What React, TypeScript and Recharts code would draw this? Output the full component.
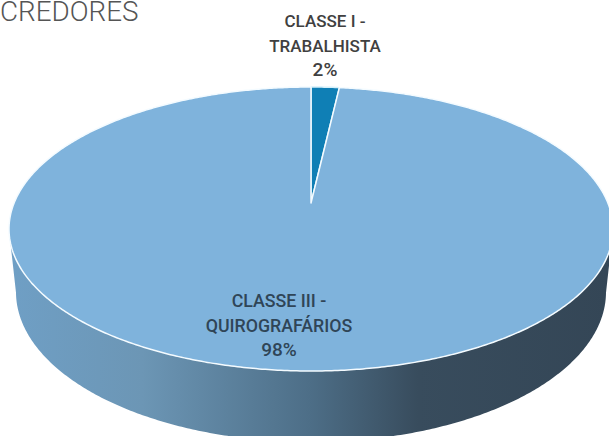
import React from "react";
import { PieChart, Pie, Cell } from "recharts";

const CATEGORIES = ["CLASSE I - TRABALHISTA", "CLASSE III - QUIROGRAFÁRIOS"];
const VALUES = [1.8, 98.2];
const LABEL_LINES = [
  ["CLASSE I -", "TRABALHISTA"],
  ["CLASSE III -", "QUIROGRAFÁRIOS"],
];
const COLORS = ["#0f7fb5", "#7fb3dc"];
const STROKES = ["#d5f0fa", "#f4fbff"];

const data = CATEGORIES.map((name, i) => ({ name, value: VALUES[i] }));

// 3d look: the disc is a projected circle, the slice apex sits above the rim ellipse's centre
const FAR = 116;
const NEAR = 168;
const K = (NEAR - FAR) / (NEAR + FAR);
const B = FAR * (1 + K);
const ELLIPSE_DROP = (NEAR - FAR) / 2;
const ELLIPSE_RY = (NEAR + FAR) / 2;
const WALL_DROP = 89;
const WALL_RX = 295;
const WALL_RY = 150;

const rimPoint = (cx: number, cy: number, r: number, angle: number) => {
  const t = ((90 - angle) * Math.PI) / 180;
  const w = 1 + K * Math.cos(t);
  return {
    x: cx + (r * Math.sqrt(1 - K * K) * Math.sin(t)) / w,
    y: cy - (B * Math.cos(t)) / w,
  };
};

const sampleAngles = (start: number, end: number) => {
  const out: number[] = [];
  const steps = Math.max(2, Math.ceil(Math.abs(end - start) * 2));
  for (let i = 0; i <= steps; i++) out.push(start + ((end - start) * i) / steps);
  return out;
};

const TopSector = (props: any) => {
  const { cx, cy, outerRadius, startAngle, endAngle, fill, stroke } = props;
  const pts = sampleAngles(startAngle, endAngle).map((a) =>
    rimPoint(cx, cy, outerRadius, a),
  );
  const d =
    `M${cx},${cy}` +
    pts.map((p) => `L${p.x.toFixed(2)},${p.y.toFixed(2)}`).join("") +
    "Z";
  return <path d={d} fill={fill} stroke={stroke} strokeWidth={1.5} strokeLinejoin="round" />;
};

const WallSector = (props: any) => {
  const { cx, cy, outerRadius, startAngle, endAngle } = props;
  const midY = cy + ELLIPSE_DROP;
  const top = sampleAngles(startAngle, endAngle)
    .map((a) => rimPoint(cx, cy, outerRadius, a))
    .filter((p) => p.y >= midY);
  if (top.length < 2) return null;
  const bottom = top
    .map((p) => ({
      x: cx + ((p.x - cx) / outerRadius) * WALL_RX,
      y: cy + WALL_DROP + ((p.y - midY) / ELLIPSE_RY) * WALL_RY,
    }))
    .reverse();
  const d =
    [...top, ...bottom]
      .map((p, i) => `${i ? "L" : "M"}${p.x.toFixed(2)},${p.y.toFixed(2)}`)
      .join("") + "Z";
  return <path d={d} fill="url(#wallGradient)" />;
};

const LABEL_BASE = [
  { dx: 14, dy: -176, color: "#404040", size: 17 },
  { dx: -32, dy: 104, color: "#2f4557", size: 17.8 },
];

const renderLabel = (props: any) => {
  const { cx, cy, index, percent } = props;
  const base = LABEL_BASE[index];
  const x = cx + base.dx;
  const y = cy + base.dy;
  return (
    <text
      x={x}
      y={y}
      textAnchor="middle"
      fill={base.color}
      fontFamily="Roboto"
      fontWeight={500}
      fontSize={base.size}
    >
      {LABEL_LINES[index].map((line, i) => (
        <tspan key={line} x={x} dy={i ? 25 : 0}>
          {line}
        </tspan>
      ))}
      <tspan x={x} dy={24} fontSize={19}>
        {`${(percent * 100).toFixed(0)}%`}
      </tspan>
    </text>
  );
};

export default function App() {
  return (
    <div style={{ position: "absolute", left: 0, top: 0, width: 609, height: 436, overflow: "hidden", background: "#fff" }}>
      <div
        style={{
          position: "absolute",
          left: 0,
          top: 0,
          fontFamily: "Roboto",
          fontWeight: 300,
          fontSize: 27.8,
          lineHeight: "24px",
          color: "#555555",
          zIndex: 1,
        }}
      >
        CREDORES
      </div>
      <PieChart width={609} height={436} margin={{ top: 0, right: 0, bottom: 0, left: 0 }}>
        <defs>
          <linearGradient id="wallGradient" gradientUnits="userSpaceOnUse" x1="10" y1="0" x2="610" y2="0">
            <stop offset="0" stopColor="#6f9fc5" />
            <stop offset="0.22" stopColor="#6c96b5" />
            <stop offset="0.5" stopColor="#4d6e87" />
            <stop offset="0.68" stopColor="#384c5d" />
            <stop offset="1" stopColor="#344656" />
          </linearGradient>
        </defs>
        <Pie
          data={data}
          dataKey="value"
          nameKey="name"
          cx={311}
          cy={203}
          outerRadius={302}
          startAngle={90}
          endAngle={-270}
          stroke="none"
          shape={WallSector}
          isAnimationActive={false}
        />
        <Pie
          data={data}
          dataKey="value"
          nameKey="name"
          cx={311}
          cy={203}
          outerRadius={302}
          startAngle={90}
          endAngle={-270}
          shape={TopSector}
          label={renderLabel}
          labelLine={false}
          isAnimationActive={false}
        >
          {data.map((entry, idx) => (
            <Cell key={entry.name} fill={COLORS[idx]} stroke={STROKES[idx]} />
          ))}
        </Pie>
      </PieChart>
    </div>
  );
}
